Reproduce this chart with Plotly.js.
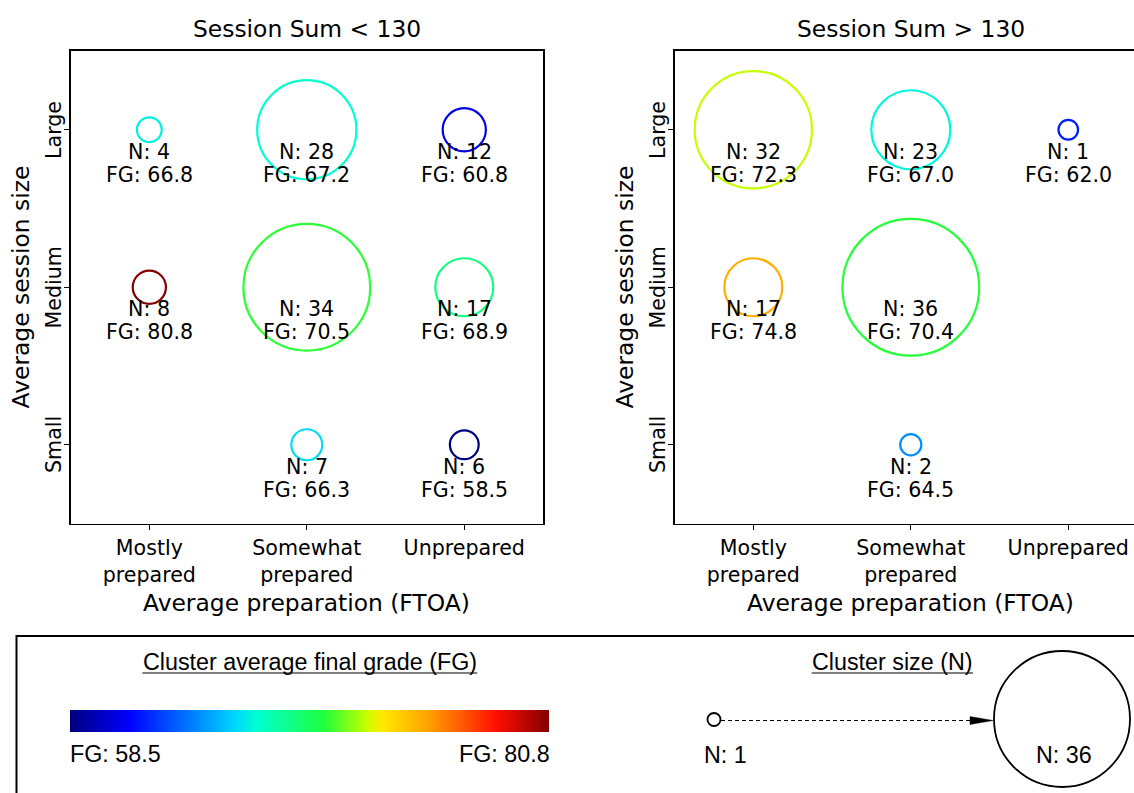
<!DOCTYPE html>
<html><head><meta charset="utf-8">
<script src="https://cdn.plot.ly/plotly-3.0.1.min.js"></script>
<style>html,body{margin:0;padding:0;overflow:hidden;background:#fff}#chart{width:1160px;height:793px}</style>
</head><body><div id="chart"></div><script>
// ---------- data ----------
const prepCategories = ['Mostly prepared', 'Somewhat prepared', 'Unprepared'];
const prepTickText = ['Mostly<br>prepared', 'Somewhat<br>prepared', 'Unprepared'];
const sizeCategories = ['Small', 'Medium', 'Large'];
const panelTitles = ['Session Sum < 130', 'Session Sum > 130'];
const xAxisTitle = 'Average preparation (FTOA)';
const yAxisTitle = 'Average session size';

// panel 1: Session Sum < 130
const lowPrep = ['Mostly prepared', 'Somewhat prepared', 'Unprepared', 'Mostly prepared', 'Somewhat prepared', 'Unprepared', 'Somewhat prepared', 'Unprepared'];
const lowSize = ['Large', 'Large', 'Large', 'Medium', 'Medium', 'Medium', 'Small', 'Small'];
const lowN = [4, 28, 12, 8, 34, 17, 7, 6];
const lowFG = [66.8, 67.2, 60.8, 80.8, 70.5, 68.9, 66.3, 58.5];

// panel 2: Session Sum > 130
const highPrep = ['Mostly prepared', 'Somewhat prepared', 'Unprepared', 'Mostly prepared', 'Somewhat prepared', 'Somewhat prepared'];
const highSize = ['Large', 'Large', 'Large', 'Medium', 'Medium', 'Small'];
const highN = [32, 23, 1, 17, 36, 2];
const highFG = [72.3, 67.0, 62.0, 74.8, 70.4, 64.5];

const fgRange = [58.5, 80.8];
const nRange = [1, 36];
const legendTitles = ['Cluster average final grade (FG)', 'Cluster size (N)'];

// ---------- styling ----------
const W = 1160, H = 793;
const FONT = 'DejaVu Sans';
const LFONT = 'Liberation Sans, Arial, sans-serif';
const jet = [
  [0.000, 'rgb(0,0,128)'],
  [0.125, 'rgb(0,0,255)'],
  [0.340, 'rgb(0,210,255)'],
  [0.390, 'rgb(0,255,210)'],
  [0.530, 'rgb(30,255,60)'],
  [0.620, 'rgb(200,255,0)'],
  [0.650, 'rgb(255,235,0)'],
  [0.750, 'rgb(255,160,0)'],
  [0.890, 'rgb(255,15,0)'],
  [1.000, 'rgb(130,0,0)']
];
function markerSize(n) { return 18 + 1.5 * n + 0.05 * n * n; }

const xDomL = [70.6 / W, 543 / W], xDomR = [674.6 / W, 1147 / W];
const yDom = [1 - 523.5 / H, 1 - 51 / H];

function panelTrace(prep, size, N, FG, xa, ya, showScale) {
  return {
    type: 'scatter', mode: 'markers', xaxis: xa, yaxis: ya, hoverinfo: 'skip',
    x: prep.map(p => prepCategories.indexOf(p)),
    y: size.map(s => sizeCategories.indexOf(s)),
    marker: {
      symbol: 'circle-open', size: N.map(markerSize), sizemode: 'diameter', opacity: 1,
      color: FG, cmin: fgRange[0], cmax: fgRange[1], colorscale: jet,
      line: { width: 2.2 },
      showscale: showScale,
      colorbar: {
        orientation: 'h', x: 70 / W, xanchor: 'left', y: 1 - 720.8 / H, yanchor: 'middle',
        len: 479, lenmode: 'pixels', thickness: 22, thicknessmode: 'pixels',
        outlinewidth: 0, showticklabels: false, ticks: '', xpad: 0, ypad: 0, borderwidth: 0
      }
    },
    showlegend: false
  };
}

const traces = [
  panelTrace(lowPrep, lowSize, lowN, lowFG, 'x', 'y', true),
  panelTrace(highPrep, highSize, highN, highFG, 'x2', 'y2', false),
  { // legend size circles on a pixel overlay axis
    type: 'scatter', mode: 'markers', xaxis: 'x3', yaxis: 'y3', hoverinfo: 'skip', showlegend: false,
    x: [714, 1062], y: [719.5, 719],
    marker: { symbol: 'circle-open', size: [13, 136], color: 'black', opacity: 1, line: { width: 1.8 } }
  }
];

function axisX(domain, anchor) {
  return {
    domain: domain, anchor: anchor, range: [-0.5, 2.5], tickvals: [0, 1, 2], ticktext: prepTickText,
    showline: true, mirror: true, linecolor: 'black', linewidth: 1.6, showgrid: false, zeroline: false,
    ticks: 'outside', ticklen: 5, tickwidth: 1.4, tickcolor: 'black',
    tickfont: { family: FONT, size: 20.6, color: 'black' }, fixedrange: true
  };
}
function axisY(anchor) {
  return {
    domain: yDom, anchor: anchor, range: [-0.5, 2.5], tickvals: [0, 1, 2], showticklabels: false,
    showline: true, mirror: true, linecolor: 'black', linewidth: 1.6, showgrid: false, zeroline: false,
    ticks: 'outside', ticklen: 5, tickwidth: 1.4, tickcolor: 'black', fixedrange: true
  };
}

const annotations = [];
const txt = (o) => Object.assign({ showarrow: false, xanchor: 'center', yanchor: 'middle' }, o);
const mf = { family: FONT, size: 20.6, color: 'black' };
[[lowPrep, lowSize, lowN, lowFG, 'x', 'y'], [highPrep, highSize, highN, highFG, 'x2', 'y2']].forEach(([prep, size, N, FG, xr, yr]) => {
  N.forEach((n, i) => {
    const x = prepCategories.indexOf(prep[i]), y = sizeCategories.indexOf(size[i]);
    annotations.push(txt({ xref: xr, yref: yr, x: x, y: y, yshift: -22.2, text: 'N: ' + n, font: mf }));
    annotations.push(txt({ xref: xr, yref: yr, x: x, y: y, yshift: -44.9, text: 'FG: ' + FG[i].toFixed(1), font: mf }));
  });
});
[xDomL, xDomR].forEach((d, k) => {
  const cx = (d[0] + d[1]) / 2;
  const yr = k === 0 ? 'y' : 'y2';
  annotations.push(txt({ xref: 'paper', yref: 'paper', x: cx, y: 1 - 28.7 / H, text: panelTitles[k], font: { family: FONT, size: 23.4, color: 'black' } }));
  annotations.push(txt({ xref: 'paper', yref: 'paper', x: cx, y: 1 - 603.3 / H, text: xAxisTitle, font: { family: FONT, size: 23.4, color: 'black' } }));
  annotations.push(txt({ xref: 'paper', yref: 'paper', x: d[0] - 49.4 / W, y: (yDom[0] + yDom[1]) / 2, textangle: -90, text: yAxisTitle, font: { family: FONT, size: 23.4, color: 'black' } }));
  // y tick labels (rotated)
  sizeCategories.forEach((c, j) => {
    annotations.push(txt({ xref: 'paper', yref: yr, x: d[0] - 16.4 / W, y: j, textangle: -90, text: c, font: mf }));
  });
});
// legend texts (pixel overlay axis x3/y3)
const lf = { family: LFONT, size: 23.3, color: 'black' };
annotations.push(txt({ xref: 'x3', yref: 'y3', x: 309.8, y: 662, text: legendTitles[0], font: lf }));
annotations.push(txt({ xref: 'x3', yref: 'y3', x: 892.3, y: 662, text: legendTitles[1], font: lf }));
annotations.push(txt({ xref: 'x3', yref: 'y3', x: 68, y: 754, xanchor: 'left', text: 'FG: ' + fgRange[0].toFixed(1), font: lf }));
annotations.push(txt({ xref: 'x3', yref: 'y3', x: 552, y: 754, xanchor: 'right', text: 'FG: ' + fgRange[1].toFixed(1), font: lf }));
annotations.push(txt({ xref: 'x3', yref: 'y3', x: 725, y: 755, text: 'N: ' + nRange[0], font: lf }));
annotations.push(txt({ xref: 'x3', yref: 'y3', x: 1063.7, y: 755, text: 'N: ' + nRange[1], font: lf }));

const shapes = [
  { type: 'rect', xref: 'x3', yref: 'y3', x0: 16.5, y0: 636, x1: W + 30, y1: H + 30, line: { color: 'black', width: 2 } },
  { type: 'line', xref: 'x3', yref: 'y3', x0: 142.4, x1: 477.2, y0: 673, y1: 673, line: { color: 'black', width: 1.2 } },
  { type: 'line', xref: 'x3', yref: 'y3', x0: 811.7, x1: 973, y0: 673, y1: 673, line: { color: 'black', width: 1.2 } },
  { type: 'line', xref: 'x3', yref: 'y3', x0: 721, x1: 971, y0: 720.5, y1: 720.5, line: { color: 'black', width: 1.1, dash: '4px,3px' } },
  { type: 'path', xref: 'x3', yref: 'y3', path: 'M 970 716.6 L 993 720.5 L 970 724.4 Z', fillcolor: 'black', line: { color: 'black', width: 0.5 } }
];

const layout = {
  width: W, height: H, margin: { l: 0, r: 0, t: 0, b: 0, autoexpand: false },
  paper_bgcolor: 'white', plot_bgcolor: 'rgba(0,0,0,0)',
  font: { family: FONT, color: 'black' },
  xaxis: axisX(xDomL, 'y'), yaxis: axisY('x'),
  xaxis2: axisX(xDomR, 'y2'), yaxis2: axisY('x2'),
  xaxis3: { domain: [0, 1], anchor: 'y3', range: [0, W], visible: false, fixedrange: true },
  yaxis3: { domain: [0, 1], anchor: 'x3', range: [H, 0], visible: false, fixedrange: true },
  annotations: annotations, shapes: shapes, showlegend: false
};

Plotly.newPlot('chart', traces, layout, { staticPlot: true, displayModeBar: false });
</script></body></html>
